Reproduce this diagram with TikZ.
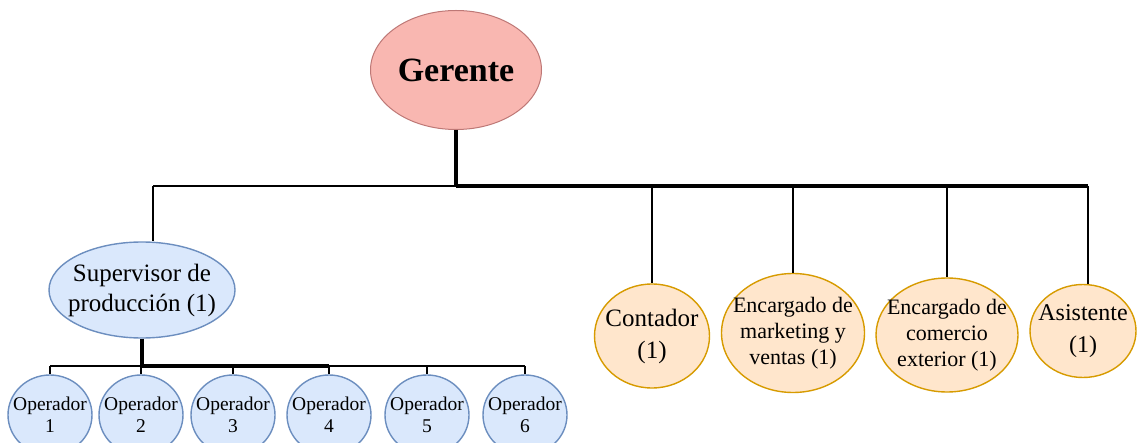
\documentclass[tikz,border=0pt]{standalone}
\usepackage{fontspec}
\setmainfont{Liberation Serif}
\usetikzlibrary{shapes.geometric}
\definecolor{redfill}{RGB}{249,183,177}
\definecolor{redline}{RGB}{190,120,118}
\definecolor{bluefill}{RGB}{218,232,252}
\definecolor{blueline}{RGB}{108,142,191}
\definecolor{orangefill}{RGB}{255,230,204}
\definecolor{orangeline}{RGB}{215,155,0}
\tikzset{
  oval/.style={ellipse, inner sep=0pt, line width=1.4pt},
  rednode/.style={oval, fill=redfill, draw=redline, line width=1pt},
  bluenode/.style={oval, fill=bluefill, draw=blueline},
  orangenode/.style={oval, fill=orangefill, draw=orangeline},
  txt/.style={align=center, inner sep=0pt},
  opnode/.style={bluenode, minimum width=84pt, minimum height=80pt},
  optext/.style={txt, font=\fontsize{19.5}{22}\selectfont},
  heavy/.style={line width=3.4pt},
  light/.style={line width=2.3pt},
}
\begin{document}
\begin{tikzpicture}[x=1pt,y=-1pt]
\useasboundingbox (0,0) rectangle (1137,443);
\clip (0,0) rectangle (1137,443);
\fill[white] (0,0) rectangle (1137,443);
% nodes
\node[rednode, minimum width=171pt, minimum height=119pt,
  label={[txt, font=\fontsize{34}{40}\selectfont\bfseries]center:Gerente}] (ger) at (456,70) {};
\node[bluenode, minimum width=186pt, minimum height=96pt,
  label={[txt, font=\fontsize{25}{30}\selectfont]center:Supervisor de\\producción (1)}] (sup) at (142,290) {};
\node[orangenode, minimum width=115pt, minimum height=104pt,
  label={[txt, font=\fontsize{25}{32}\selectfont]center:Contador\\(1)}] (cont) at (652,336) {};
\node[orangenode, minimum width=143pt, minimum height=119pt,
  label={[txt, font=\fontsize{22}{26}\selectfont]center:Encargado de\\marketing y\\ventas (1)}] (mark) at (793,333) {};
\node[orangenode, minimum width=142pt, minimum height=114pt,
  label={[txt, font=\fontsize{22}{26}\selectfont]center:Encargado de\\comercio\\exterior (1)}] (come) at (947,335) {};
\node[orangenode, minimum width=106pt, minimum height=93pt,
  label={[txt, font=\fontsize{24}{32}\selectfont]center:Asistente\\(1)}] (asis) at (1083,331) {};
\node[opnode, label={[optext]center:Operador\\1}] (op1) at (50,415) {};
\node[opnode, label={[optext]center:Operador\\2}] (op2) at (141,415) {};
\node[opnode, label={[optext]center:Operador\\3}] (op3) at (233,415) {};
\node[opnode, label={[optext]center:Operador\\4}] (op4) at (329,415) {};
\node[opnode, label={[optext]center:Operador\\5}] (op5) at (427,415) {};
\node[opnode, label={[optext]center:Operador\\6}] (op6) at (525,415) {};
% bar coordinates
\coordinate (bar) at (456,186);
\coordinate (supdrop) at (153,186);
\coordinate (asisdrop) at (1088,186);
\coordinate (opbar) at (142,366);
% connectors
\draw[heavy] (ger.south) -- (ger.south |- bar);
\draw[light] (supdrop) -- (bar);
\draw[heavy] (bar) -- (asisdrop);
\draw[light] (supdrop) -- (sup.north -| supdrop);
\draw[light] (cont.north |- bar) -- (cont.north);
\draw[light] (mark.north |- bar) -- (mark.north);
\draw[light] (come.north |- bar) -- (come.north);
\draw[light] (asisdrop) -- (asis.north -| asisdrop);
\draw[heavy] (sup.south) -- (opbar);
\draw[light] (op1.north |- opbar) -- (opbar);
\draw[heavy] (opbar) -- (op4.north |- opbar);
\draw[light] (op4.north |- opbar) -- (op6.north |- opbar);
\foreach \o in {op1,op2,op3,op4,op5,op6}
  \draw[light] (\o.north |- opbar) -- (\o.north);
\end{tikzpicture}
\end{document}
